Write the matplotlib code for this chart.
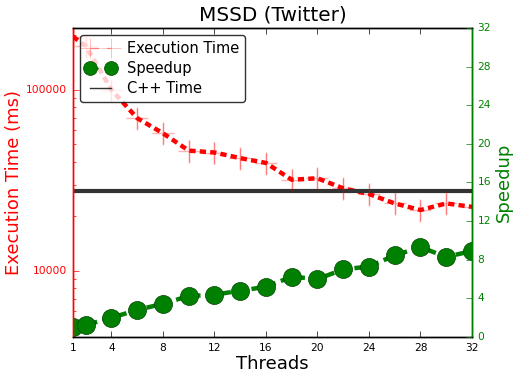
import matplotlib
matplotlib.use('Agg')
import matplotlib.pyplot as plt
from matplotlib.lines import Line2D
from matplotlib.ticker import FuncFormatter, NullFormatter

# =========================
# Data
# =========================
threads = [1, 2, 4, 6, 8, 10, 12, 14, 16, 18, 20, 22, 24, 26, 28, 30, 32]
exec_time = [197000, 175000, 100000, 69800, 57600, 46200, 45100, 42000, 39500,
             31900, 32500, 28600, 26600, 23600, 21700, 23600, 22600]
exec_err = [27000, 24000, 14000, 9800, 8000, 6500, 6300, 5900, 5500,
            4500, 4500, 4000, 3700, 3300, 3000, 3300, 3200]
speedup = [1.0, 1.24, 2.0, 2.8, 3.45, 4.24, 4.38, 4.8, 5.2,
           6.24, 6.0, 7.0, 7.3, 8.45, 9.3, 8.3, 8.9]
cpp_time = 27500
xticks = [1, 4, 8, 12, 16, 20, 24, 28, 32]
speedup_ticks = [0, 4, 8, 12, 16, 20, 24, 28, 32]

plt.style.use('classic')
plt.rcParams['font.family'] = ['DejaVu Sans']

fig = plt.figure(figsize=(5.13, 3.77), dpi=100, facecolor='white')
ax = fig.add_axes([0.142, 0.106, 0.778, 0.820])
ax2 = ax.twinx()

# Execution time (left, log scale)
ax.errorbar(threads, exec_time, yerr=exec_err, fmt='+', color='red', alpha=0.3,
            ms=16, mew=1, elinewidth=1, capsize=0)
ax.plot(threads, exec_time, color='red', lw=3.2, dashes=(4.5, 3))
ax.axhline(cpp_time, color='#333333', lw=3)
ax.set_yscale('log')
ax.set_ylim(4315, 220000)
ax.set_xlim(1, 32)
ax.set_xticks(xticks)
ax.yaxis.set_major_formatter(FuncFormatter(lambda v, p: '%d' % v))
ax.yaxis.set_minor_formatter(NullFormatter())
ax.set_xlabel('Threads', fontsize=13, labelpad=2)
ax.set_ylabel('Execution Time (ms)', color='red', fontsize=13, labelpad=2)
ax.tick_params(axis='y', which='both', colors='red', labelsize=7.7)
ax.tick_params(axis='x', labelsize=7.7)
ax.spines['left'].set_color('red')

# Speedup (right)
ax2.plot(threads, speedup, color='green', lw=3.2, dashes=(7, 4),
         marker='o', ms=13, mfc='green', mec='#004400')
ax2.set_ylim(0, 32)
ax2.set_yticks(speedup_ticks)
ax2.set_ylabel('Speedup', color='green', fontsize=13, labelpad=3)
ax2.tick_params(axis='y', colors='green', labelsize=7.7)
ax2.spines['right'].set_color('green')
ax2.spines['left'].set_color('red')
ax2.set_xlim(1, 32)

ax.set_title('MSSD (Twitter)', fontsize=14.4)

handles = [
    Line2D([], [], color='red', alpha=0.35, ls='--', marker='+', ms=14),
    Line2D([], [], color='green', ls='--', marker='o', ms=10, mec='#004400'),
    Line2D([], [], color='#333333', lw=1),
]
leg = ax2.legend(handles, ['Execution Time', 'Speedup', 'C++ Time'],
                 loc='upper left', fontsize=10.5, numpoints=2, framealpha=0.8,
                 fancybox=True, borderaxespad=0.5, handlelength=2.0,
                 labelspacing=0.35)

fig.savefig('out.png', dpi=100, facecolor='white')
